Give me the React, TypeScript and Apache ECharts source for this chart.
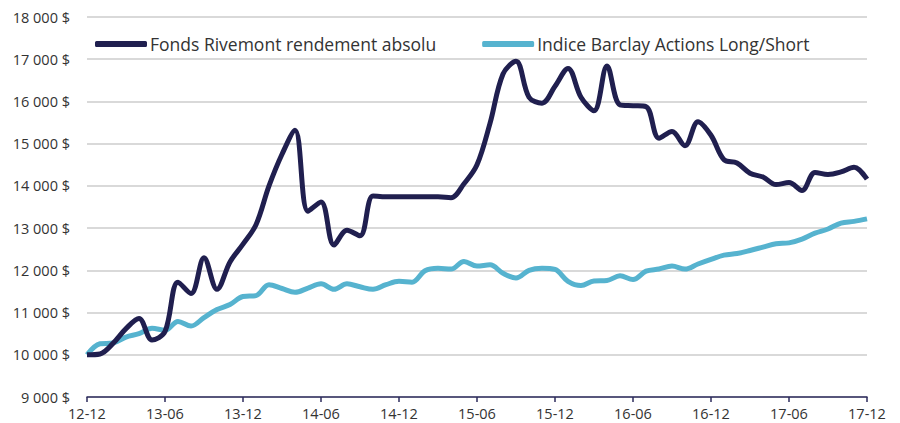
import React, { useEffect, useRef } from "react";
import * as echarts from "echarts";

const categories: string[] = [
  "12-12",
  "13-01", "13-02", "13-03", "13-04", "13-05", "13-06", "13-07", "13-08", "13-09", "13-10", "13-11", "13-12",
  "14-01", "14-02", "14-03", "14-04", "14-05", "14-06", "14-07", "14-08", "14-09", "14-10", "14-11", "14-12",
  "15-01", "15-02", "15-03", "15-04", "15-05", "15-06", "15-07", "15-08", "15-09", "15-10", "15-11", "15-12",
  "16-01", "16-02", "16-03", "16-04", "16-05", "16-06", "16-07", "16-08", "16-09", "16-10", "16-11", "16-12",
  "17-01", "17-02", "17-03", "17-04", "17-05", "17-06", "17-07", "17-08", "17-09", "17-10", "17-11", "17-12",
];

const rivemont: number[] = [
  10000,
  10020, 10270, 10620, 10860, 10350, 10550, 11720, 11450, 12300, 11550, 12200, 12620,
  13080, 14000, 14750, 15320, 13400, 13620, 12600, 12950, 12820, 13760, 13740, 13740,
  13740, 13740, 13740, 13720, 14050, 14500, 15480, 16650, 16950, 16100, 15960, 16360,
  16780, 16100, 15780, 16840, 15920, 15900, 15880, 15130, 15290, 14950, 15520, 15200,
  14620, 14540, 14300, 14210, 14030, 14080, 13890, 14320, 14270, 14330, 14440, 14160,
];

const barclay: number[] = [
  10000,
  10260, 10280, 10420, 10500, 10630, 10580, 10790, 10680, 10880, 11070, 11190, 11380,
  11400, 11660, 11570, 11480, 11580, 11680, 11550, 11680, 11610, 11550, 11660, 11740,
  11720, 11990, 12050, 12030, 12210, 12100, 12130, 11930, 11820, 12000, 12050, 12020,
  11740, 11640, 11750, 11760, 11870, 11780, 11980, 12030, 12100, 12030, 12150, 12260,
  12360, 12400, 12470, 12550, 12630, 12650, 12740, 12880, 12980, 13120, 13160, 13220,
];

const seriesNames: string[] = [
  "Fonds Rivemont rendement absolu",
  "Indice Barclay Actions Long/Short",
];

const FONT = "'Open Sans', sans-serif";

function fmt(v: number): string {
  return String(v).replace(/\B(?=(\d{3})+(?!\d))/g, " ") + " $";
}

export default function App() {
  const ref = useRef<HTMLDivElement>(null);
  useEffect(() => {
    if (!ref.current) return;
    const chart = echarts.init(ref.current, undefined, { renderer: "svg" });
    chart.setOption({
      animation: false,
      backgroundColor: "#ffffff",
      textStyle: { fontFamily: FONT },
      grid: { left: 87, right: 33, top: 17, bottom: 26, containLabel: false },
      legend: {
        left: 90,
        top: 30,
        itemWidth: 52,
        itemHeight: 6,
        itemGap: 46,
        icon: "roundRect",
        textStyle: { fontFamily: FONT, fontSize: 17.5, color: "#333333", padding: [0, 0, 0, -2] },
        data: seriesNames,
      },
      xAxis: {
        type: "category",
        data: categories,
        boundaryGap: false,
        axisLine: { lineStyle: { color: "#2c2b5c", width: 1.5 } },
        axisTick: { interval: 5, length: 5, lineStyle: { color: "#2c2b5c", width: 1.5 } },
        axisLabel: { interval: 5, color: "#333333", fontSize: 14.5, fontFamily: FONT, margin: 9 },
        splitLine: { show: false },
      },
      yAxis: {
        type: "value",
        min: 9000,
        max: 18000,
        interval: 1000,
        axisLine: { show: false },
        axisTick: { show: false },
        axisLabel: { formatter: fmt, color: "#333333", fontSize: 14.5, fontFamily: FONT, margin: 17 },
        splitLine: { lineStyle: { color: "#cccccc", width: 1.5 } },
      },
      series: [
        {
          name: seriesNames[0],
          type: "line",
          data: rivemont,
          smooth: 0.35,
          showSymbol: false,
          symbol: "none",
          lineStyle: { color: "#201f4f", width: 5 },
          itemStyle: { color: "#201f4f" },
          z: 3,
        },
        {
          name: seriesNames[1],
          type: "line",
          data: barclay,
          smooth: 0.35,
          showSymbol: false,
          symbol: "none",
          lineStyle: { color: "#56b3cf", width: 5 },
          itemStyle: { color: "#56b3cf" },
          z: 2,
        },
      ],
    });
    return () => chart.dispose();
  }, []);
  return (
    <div
      ref={ref}
      style={{ width: 900, height: 423, position: "absolute", left: 0, top: 0 }}
    />
  );
}
